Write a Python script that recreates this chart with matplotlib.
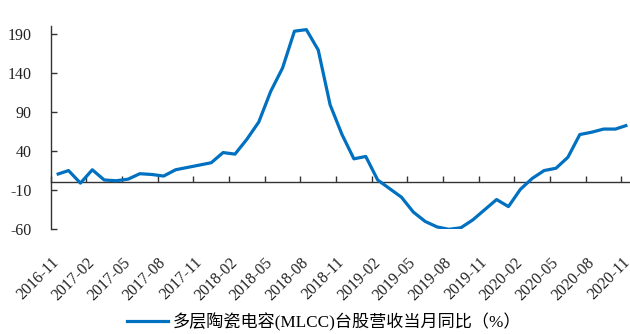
import numpy as np
import matplotlib
matplotlib.use("Agg")
import matplotlib.pyplot as plt

# Monthly year-on-year revenue growth (%), 2016-11 .. 2020-11
months = [f"{y}-{m:02d}" for y in range(2016, 2021) for m in range(1, 13)]
months = months[months.index("2016-11"):months.index("2020-11") + 1]

yoy = [10, 15, -1, 16, 3, 2, 4, 11, 10, 8, 16, 19, 22, 25, 38, 36,
       55, 77, 116, 146, 193, 195, 169, 99, 61, 30, 33, 3, -8, -19,
       -38, -50, -57, -60, -58, -48, -35, -22, -31, -9, 5, 15, 18, 32,
       61, 64, 68, 68, 73]

y_ticks = [-60, -10, 40, 90, 140, 190]
series_name = "多层陶瓷电容(MLCC)台股营收当月同比（%）"

serif = ["Liberation Serif", "Noto Sans CJK SC"]
plt.rcParams["font.family"] = serif

W, H = 630, 334
fig = plt.figure(figsize=(W / 100, H / 100), dpi=100)

left_px, right_px = 50.7, 633.3
top_px, bottom_px = 25.7, 229.3
ax = fig.add_axes([left_px / W, 1 - bottom_px / H,
                   (right_px - left_px) / W, (bottom_px - top_px) / H])

x = np.arange(len(yoy))
ax.plot(x, yoy, color="#0070C0", lw=2.3, solid_joinstyle="round",
        solid_capstyle="butt", zorder=3)

ax.set_xlim(-0.5, len(yoy) - 0.5)
ax.set_ylim(-60, 200)

for s in ("top", "right"):
    ax.spines[s].set_visible(False)
ax.spines["bottom"].set_position(("data", 0))
ax.spines["left"].set_bounds(-60, 200)
for s in ("left", "bottom"):
    ax.spines[s].set_color("#333333")
    ax.spines[s].set_linewidth(1.0)

# y axis
ax.set_yticks(y_ticks)
ax.set_yticklabels([str(v) for v in y_ticks], fontsize=11.5, color="#222222")
ax.tick_params(axis="y", direction="in", length=4, width=1, color="#333333", pad=14)

# x axis: boundary tick marks every 3 months, labels under category centres
label_idx = np.arange(0, len(yoy), 3)
ax.set_xticks(np.arange(-0.5, len(yoy), 3))
ax.set_xticklabels([])
ax.tick_params(axis="x", which="major", direction="in", length=4, width=1,
               color="#333333")
ax.set_xticks(label_idx, minor=True)
ax.set_xticklabels([months[i] for i in label_idx], minor=True, rotation=45,
                   ha="right", va="center", rotation_mode="anchor",
                   fontsize=11.5, color="#222222")
ax.tick_params(axis="x", which="minor", length=0, pad=56)

handle, = ax.plot([], [], color="#0070C0", lw=2.3)
fig.legend([handle], [series_name], loc="center",
           bbox_to_anchor=(324 / W, 1 - 322 / H), frameon=False,
           handlelength=2.4, handletextpad=0.3,
           prop={"family": serif, "size": 12.3})

fig.savefig("out.png", dpi=100)
